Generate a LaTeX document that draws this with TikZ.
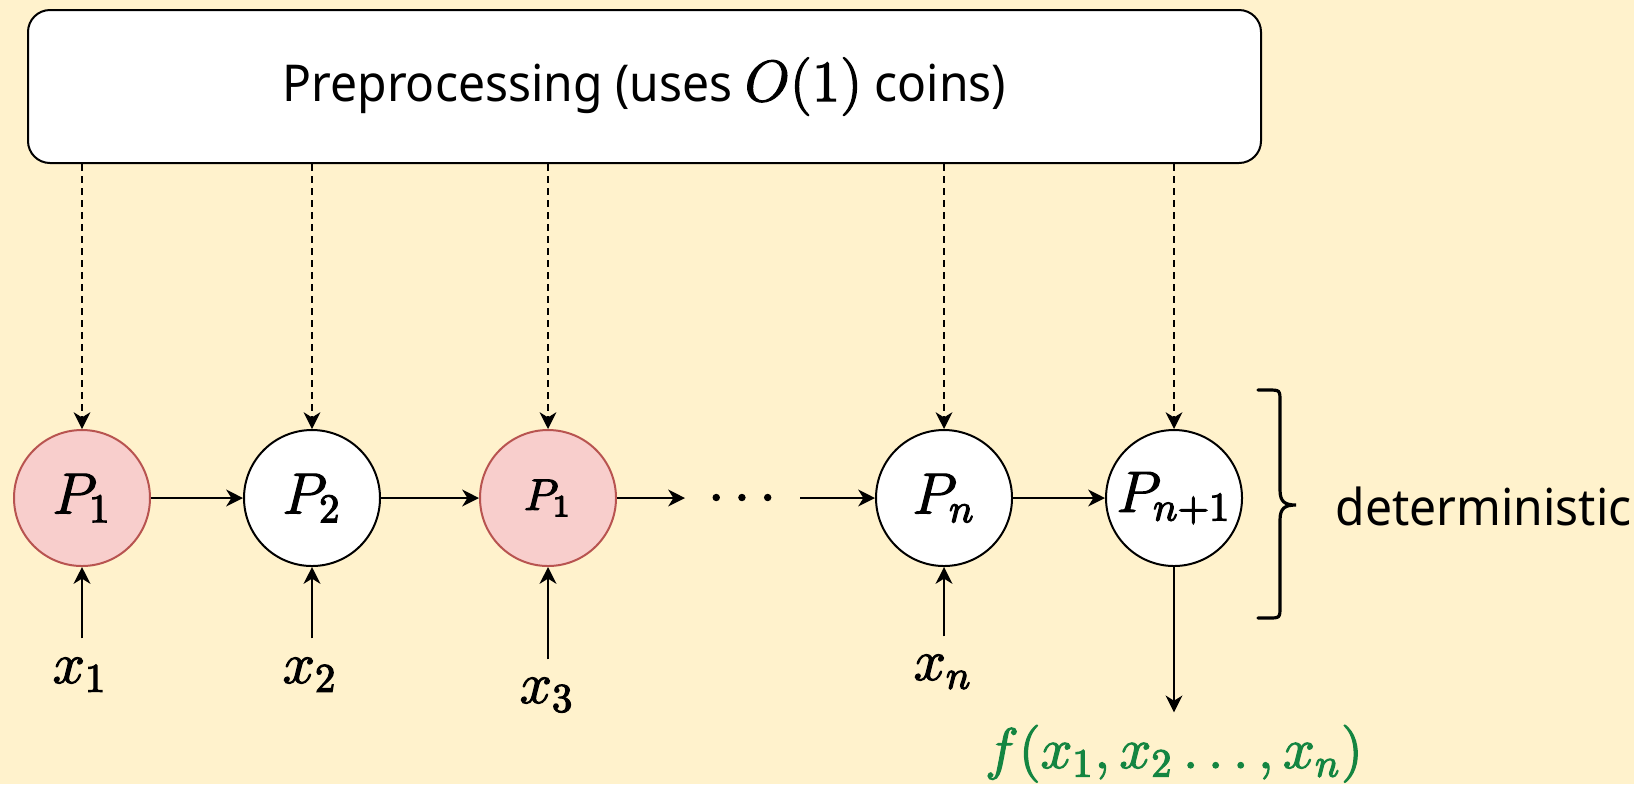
\RequirePackage{fix-cm}
\documentclass[tikz,border=0pt]{standalone}
\usepackage{fontspec}
\setmainfont{Noto Sans}
\newfontfamily\labfont[FakeStretch=0.945]{Noto Sans}
\usetikzlibrary{arrows.meta}
\definecolor{bgcol}{HTML}{FFF2CC}
\definecolor{pinkfill}{HTML}{F8CECC}
\definecolor{pinkdraw}{HTML}{B85450}
\definecolor{outgreen}{RGB}{20,133,65}
\newcommand{\heavy}[1]{\special{pdf:literal direct 2 Tr 0.3 w}#1\special{pdf:literal direct 0 Tr}}
\tikzset{
  arr/.style={draw=black, line width=0.5pt, -{Stealth[length=4.2pt,width=4.2pt,inset=1.3pt]}},
  dasharr/.style={arr, line width=0.35pt, dash pattern=on 1.75pt off 1.25pt},
  proc/.style={circle, draw=black, line width=0.5pt, fill=white, minimum size=34pt, inner sep=0pt,
    font=\fontsize{14.5}{17}\selectfont},
  procred/.style={proc, draw=pinkdraw, fill=pinkfill},
  lab/.style={inner sep=4.75pt, anchor=base, font=\fontsize{14.5}{17}\selectfont},
  pbox/.style={draw=black, line width=0.5pt, fill=white, rounded corners=5.5pt,
    minimum width=308.25pt, minimum height=38.25pt, inner sep=0pt, font=\labfont\fontsize{12.7}{15}\selectfont},
  bracestyle/.style={draw=black, line width=0.8pt, line cap=round},
}
\begin{document}
\begin{tikzpicture}[x=0.25pt, y=-0.25pt]
\useasboundingbox[fill=bgcol] (0,0) rectangle (1634,784);

\node[pbox] (pre) at (644.5,86.5) {Preprocessing (uses {\fontsize{14.5}{17}\selectfont\heavy{$O(1)$}} coins)};

\node[procred] (p1) at (82,498) {\heavy{$P_1$}};
\node[proc] (p2) at (312,498) {\heavy{$P_2$}};
\node[procred, font=\fontsize{11}{13}\selectfont] (p3) at (548,498) {\heavy{$P_1$}};
\node[lab, inner sep=0pt] (dots) at (742,512) {\heavy{$\cdots$}};
\node[proc] (pn) at (944,498) {\heavy{$P_n$}};
\node[proc] (pn1) at (1174,498) {\heavy{$P_{n+1}$}};

\coordinate (d1) at (685,498);
\coordinate (d2) at (800,498);

\draw[arr] (p1) -- (p2);
\draw[arr] (p2) -- (p3);
\draw[arr] (p3) -- (d1);
\draw[arr] (d2) -- (pn);
\draw[arr] (pn) -- (pn1);

\draw[dasharr] (pre.south -| p1) -- (p1.north);
\draw[dasharr] (pre.south -| p2) -- (p2.north);
\draw[dasharr] (pre.south -| p3) -- (p3.north);
\draw[dasharr] (pre.south -| pn) -- (pn.north);
\draw[dasharr] (pre.south -| pn1) -- (pn1.north);

\node[lab] (x1) at (80,683) {\heavy{$x_1$}};
\node[lab] (x2) at (310,683) {\heavy{$x_2$}};
\node[lab, inner sep=4.5pt] (x3) at (547,703) {\heavy{$x_3$}};
\node[lab, inner sep=4.5pt] (xn) at (943,680) {\heavy{$x_n$}};

\draw[arr] (x1.north -| p1) -- (p1.south);
\draw[arr] (x2.north -| p2) -- (p2.south);
\draw[arr] (x3.north -| p3) -- (p3.south);
\draw[arr] (xn.north -| pn) -- (pn.south);

\node[lab, inner sep=3pt, text=outgreen, font=\fontsize{14.3}{17}\selectfont] (fout) at (1174,768) {\heavy{$f(x_1, x_2 \ldots, x_n)$}};
\draw[arr] (pn1.south) -- (fout.north -| pn1);

\coordinate (bt) at (1258,390);
\coordinate (bb) at (1258,618);
\coordinate (btip) at (1296,505);
\draw[bracestyle] (bt) -- (1268,390) .. controls (1280,390) .. (1280,402) -- (1280,490)
  .. controls (1280,502) and (1285,505) .. (btip)
  .. controls (1285,505) and (1280,508) .. (1280,520) -- (1280,606)
  .. controls (1280,618) .. (1268,618) -- (bb);

\node[anchor=base west, inner sep=0pt, font=\labfont\fontsize{12.7}{15}\selectfont] (det) at (1335,525) {deterministic};
\end{tikzpicture}
\end{document}
